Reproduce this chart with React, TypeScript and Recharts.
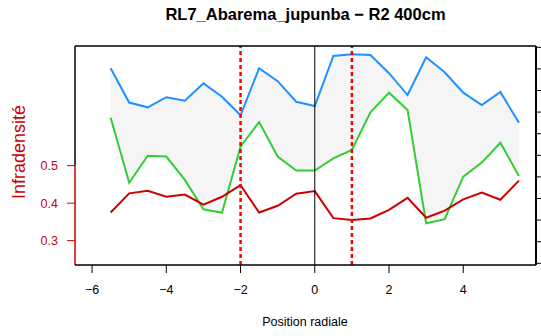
import { ComposedChart, Area, Line, XAxis, YAxis, ReferenceLine, ReferenceArea } from "recharts"

// radial positions (cm)
const positions = [-5.5, -5, -4.5, -4, -3.5, -3, -2.5, -2, -1.5, -1, -0.5, 0, 0.5, 1, 1.5, 2, 2.5, 3, 3.5, 4, 4.5, 5, 5.5]
// infradensity (left axis)
const infradensite = [0.375, 0.426, 0.433, 0.417, 0.423, 0.396, 0.417, 0.448, 0.375, 0.393, 0.425, 0.432, 0.36, 0.355, 0.359, 0.382, 0.414, 0.361, 0.38, 0.41, 0.428, 0.409, 0.46]
// envelope on the right axis (unlabelled)
const upper = [9.03, 7.44, 7.22, 7.69, 7.53, 8.33, 7.71, 6.85, 9.03, 8.43, 7.48, 7.28, 9.6, 9.68, 9.64, 8.8, 7.79, 9.54, 8.84, 7.9, 7.33, 7.93, 6.51]
const lower = [6.74, 3.73, 4.98, 4.94, 3.86, 2.5, 2.34, 5.4, 6.54, 4.94, 4.29, 4.29, 4.86, 5.25, 6.99, 7.9, 7.1, 1.85, 2.04, 4.01, 4.66, 5.58, 4.04]

const xTicks = [-6, -4, -2, 0, 2, 4]
const leftTicks = [0.3, 0.4, 0.5]
const rightTicks = [0, 1, 2, 3, 4, 5, 6, 7, 8, 9, 10]
const limits = [-2, 1]

const xDomain = [-6.46, 5.96]
const yDomain = [0.235, 0.819]

const data = positions.map((x, i) => ({
  x,
  infra: infradensite[i],
  upper: upper[i],
  lower: lower[i],
  band: [lower[i], upper[i]],
}))

const RED = "#CD0000"
const FONT = "'Liberation Sans', Arial, sans-serif"
const fmt = (v: number) => String(v).replace("-", "\u2212")

export default function App() {
  return (
    <div style={{ position: "absolute", left: 0, top: 0, width: 541, height: 336, background: "#fff", fontFamily: FONT }}>
      <svg width={541} height={40} style={{ position: "absolute", left: 0, top: 0 }}>
        <text x={305.5} y={19.5} textAnchor="middle" fontSize={16.5} fontWeight="bold" fontFamily={FONT} fill="#000">
          RL7_Abarema_jupunba − R2 400cm
        </text>
      </svg>
      <ComposedChart width={541} height={336} data={data} margin={{ top: 46, right: 0, bottom: 0, left: 0 }}>
        <XAxis
          dataKey="x"
          type="number"
          domain={xDomain}
          ticks={xTicks}
          allowDataOverflow
          height={71}
          tickSize={8}
          tickMargin={12}
          tickFormatter={fmt}
          tick={{ fill: "#000", fontSize: 12.5, fontFamily: FONT }}
          axisLine={{ stroke: "#000", strokeWidth: 1.5 }}
          tickLine={{ stroke: "#000" }}
          label={() => (
            <text x={305} y={326} textAnchor="middle" fontSize={12.5} fontFamily={FONT} fill="#000">
              Position radiale
            </text>
          )}
        />
        <YAxis
          yAxisId="left"
          type="number"
          domain={yDomain}
          ticks={leftTicks}
          allowDataOverflow
          width={75}
          tickSize={8}
          tickMargin={9}
          tick={{ fill: RED, fontSize: 12.5, fontFamily: FONT }}
          axisLine={false}
          tickLine={{ stroke: RED }}
          label={() => (
            <text x={25} y={152} transform="rotate(-90, 25, 152)" textAnchor="middle" fontSize={18} fontFamily={FONT} fill={RED}>
              Infradensité
            </text>
          )}
        />
        <YAxis
          yAxisId="right"
          orientation="right"
          type="number"
          domain={[-0.08, 10.06]}
          ticks={rightTicks}
          allowDataOverflow
          width={5}
          tickSize={7}
          tickFormatter={() => ""}
          axisLine={{ stroke: "#000", strokeWidth: 2 }}
          tickLine={{ stroke: "#000" }}
        />
        <Area
          yAxisId="right"
          dataKey="band"
          type="linear"
          stroke="none"
          fill="#F5F5F5"
          fillOpacity={1}
          isAnimationActive={false}
        />
        <Line yAxisId="right" dataKey="upper" type="linear" stroke="#1E90FF" strokeWidth={2} dot={false} isAnimationActive={false} />
        <Line yAxisId="right" dataKey="lower" type="linear" stroke="#32CD32" strokeWidth={2} dot={false} isAnimationActive={false} />
        <Line yAxisId="left" dataKey="infra" type="linear" stroke={RED} strokeWidth={2} dot={false} isAnimationActive={false} />
        <ReferenceLine yAxisId="left" x={0} stroke="#000" strokeWidth={1} />
        {limits.map((v) => (
          <ReferenceLine key={v} yAxisId="left" x={v} stroke="#FF0000" strokeWidth={2.5} strokeDasharray="4 3" />
        ))}
        {/* plot frame: top border; left border black above 0.5, red (axis) below */}
        <ReferenceLine yAxisId="left" y={yDomain[1]} stroke="#000" strokeWidth={1.5} ifOverflow="visible" />
        <ReferenceArea
          yAxisId="left"
          x1={xDomain[0] - 0.02}
          x2={xDomain[0] + 0.02}
          y1={0.5}
          y2={yDomain[1]}
          fill="#000"
          fillOpacity={1}
          stroke="none"
          ifOverflow="visible"
        />
        <ReferenceArea
          yAxisId="left"
          x1={xDomain[0] - 0.02}
          x2={xDomain[0] + 0.02}
          y1={yDomain[0]}
          y2={0.5}
          fill={RED}
          fillOpacity={1}
          stroke="none"
          ifOverflow="visible"
        />
      </ComposedChart>
    </div>
  )
}
